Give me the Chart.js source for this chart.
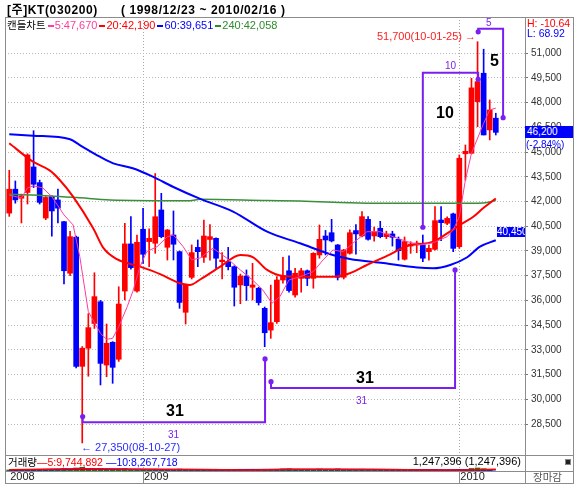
<!DOCTYPE html>
<html>
<head>
<meta charset="utf-8">
<script src="https://cdn.jsdelivr.net/npm/chart.js@4.4.1/dist/chart.umd.min.js"></script>
<style>
body{margin:0;background:#fff;}
#wrap{position:relative;width:580px;height:495px;overflow:hidden;font-family:"Liberation Sans","Noto Sans CJK KR",sans-serif;}
canvas{position:absolute;left:0;top:0;}
.t{position:absolute;white-space:nowrap;line-height:14px;font-size:11px;}
.ln{position:absolute;background:#8c8c8c;}
.dash{display:inline-block;width:6px;height:2px;vertical-align:middle;margin:0 1px 0 2px;}
.ko{font-family:"Noto Sans CJK KR",sans-serif;font-size:10.5px;}
</style>
</head>
<body>
<div id="wrap">
  <canvas id="pc" width="580" height="495"></canvas>
  <canvas id="vc" width="580" height="495"></canvas>

  <!-- frame -->
  <div class="ln" style="left:5px;top:17px;width:569px;height:1px"></div>
  <div class="ln" style="left:5px;top:483px;width:569px;height:1px"></div>
  <div class="ln" style="left:5px;top:17px;width:1px;height:467px"></div>
  <div class="ln" style="left:573px;top:17px;width:1px;height:467px"></div>
  <div class="ln" style="left:525px;top:17px;width:1px;height:467px"></div>
  <div class="ln" style="left:5px;top:455px;width:569px;height:1px"></div>
  <div class="ln" style="left:5px;top:471px;width:569px;height:1px"></div>

  <!-- title / legend -->
  <div class="t" style="left:7px;top:3px;font-size:12px;font-weight:bold;letter-spacing:0.6px">[주]KT(030200)</div>
  <div class="t" style="left:121px;top:3px;font-size:12px;font-weight:bold;letter-spacing:0.6px">( 1998/12/23 ~ 2010/02/16 )</div>
  <div class="t" style="left:7px;top:18px;font-size:11px"><span class="ko">캔들차트</span><span class="dash" style="background:#ff3c9b"></span><span style="color:#ff3c9b">5:47,670</span><span class="dash" style="background:#ff0000"></span><span style="color:#ff0000">20:42,190</span><span class="dash" style="background:#0000ff"></span><span style="color:#0000ff">60:39,651</span><span class="dash" style="background:#2e8b2e"></span><span style="color:#2e8b2e">240:42,058</span></div>
  <div class="t" style="left:527px;top:16px;font-size:10.5px;color:#ff0000">H: -10.64</div>
  <div class="t" style="left:527px;top:26px;font-size:10.5px;color:#0000ff">L: 68.92</div>

  <!-- price flags -->
  <div class="t" style="left:525px;top:126px;width:48px;height:12px;line-height:12px;background:#0000ff;color:#fff;font-size:10px;padding-left:2px;box-sizing:border-box">46,200</div>
  <div class="t" style="left:526px;top:138px;font-size:10px;color:#0000ff">(-2.84%)</div>
  <div class="t" style="left:497px;top:227px;width:28px;height:10px;line-height:10px;background:#0000ff;color:#fff;font-size:10px;overflow:hidden">40,450</div>

  <!-- annotations -->
  <div class="t" style="right:104px;top:29px;font-size:11px;color:#ff2020">51,700(10-01-25) →</div>
  <div class="t" style="left:81px;top:440px;font-size:11px;color:#2d2dff">← 27,350(08-10-27)</div>
  <div class="t" style="left:166px;top:402px;font-size:16px;font-weight:bold;line-height:18px">31</div>
  <div class="t" style="left:168px;top:428px;font-size:10px;color:#7b1ff0">31</div>
  <div class="t" style="left:356px;top:369px;font-size:16px;font-weight:bold;line-height:18px">31</div>
  <div class="t" style="left:356px;top:394px;font-size:10px;color:#7b1ff0">31</div>
  <div class="t" style="left:436px;top:104px;font-size:16px;font-weight:bold;line-height:18px">10</div>
  <div class="t" style="left:445px;top:59px;font-size:10px;color:#7b1ff0">10</div>
  <div class="t" style="left:490px;top:52px;font-size:16px;font-weight:bold;line-height:18px">5</div>
  <div class="t" style="left:486px;top:16px;font-size:10px;color:#7b1ff0">5</div>

  <!-- volume panel text -->
  <div class="t" style="left:8px;top:455px;font-size:10.5px"><span class="ko">거래량</span><span style="color:#ff0000">—5:9,744,892</span> <span style="color:#0000ff">—10:8,267,718</span></div>
  <div class="t" style="right:59px;top:454px;font-size:11px">1,247,396 (1,247,396)</div>
  <div style="position:absolute;left:565px;top:459px;width:6px;height:6px;background:#222;border:1px solid #888;box-sizing:border-box"></div>
  <div class="t ko" style="left:533px;top:470px;color:#555">장마감</div>
</div>

<script>
// weekly candles, 2008-08-04 .. 2010-02-15
const opens = [41300,42750,42200,42550,44100,43150,41000,42300,42100,40780,
37650,39850,32000,33100,34600,35920,32080,33460,32430,36570,
39430,36570,40320,39570,39470,41490,39225,39970,38960,35280,
37400,39220,38620,39700,39770,38350,38350,38050,36940,37480,
36800,36740,35520,34200,34710,37240,37800,36330,37340,37800,
37340,38760,39910,40110,39365,37405,38860,40240,39910,40920,
39912,40380,39870,40035,39710,38500,39300,39365,39365,38960,
39100,40880,40680,41250,39260,44900,44930,48064,49787,46346,
47060];
const highs = [43900,43250,42450,44900,46300,43300,42300,42350,42750,40800,
40200,39900,33200,35200,37680,36000,34570,33500,36830,40680,
41085,39970,41590,40340,43700,42500,40300,41430,39000,37000,
39370,39670,40880,40600,39800,38900,39220,38100,37600,37850,
38250,36800,35600,36930,37440,38620,38700,37950,37950,37850,
38900,40580,40250,40920,39400,39100,40280,40600,41390,41085,
40450,40800,40200,40200,39850,39850,39560,39600,39970,39360,
41690,41690,41080,41300,44830,45435,49480,51700,51244,48167,
47360];
const lows = [41100,41900,40700,41850,42850,41850,40900,39900,40700,37000,
37500,31900,27350,31400,34300,30870,31370,30970,32300,36030,
37900,36500,38250,38050,38860,39800,38450,38455,35520,34570,
37300,38050,38300,38450,37950,37300,37850,35660,35800,36000,
36030,35720,33190,33700,34600,37040,36500,36200,36500,36900,
36740,38560,38760,39550,37240,37300,38800,38800,39850,39650,
39590,39800,39750,39300,38450,38450,38860,38900,38350,38450,
39050,39630,40600,38960,39160,43300,44900,46546,46042,45738,
46042];
const closes = [42750,42100,42350,44830,43050,41950,42250,41430,41600,37800,
39870,32000,33100,34350,36230,32180,33400,31940,35780,39430,
37990,39530,38800,39770,41080,39870,40276,39410,35880,36940,
38900,38960,39910,39870,38560,38450,38050,36800,37480,36900,
36940,35870,34040,34650,37240,37480,36600,37650,37800,37340,
38860,39710,39670,39610,37405,39060,40110,40035,41085,39710,
40170,39870,40035,39830,39020,39570,39420,39480,38560,39160,
40840,40720,40980,39160,44630,45050,48900,49278,46042,47560,
46200];

// moving averages: [week index, value]
const ma5 = [[0,42390],[2,42220],[3,42830],[4,42950],[5.5,42830],[7,42300],[9,41190],[10.5,40580],[11.6,38650],[13,35320],
[15,34000],[16,33640],[17,33700],[18,34400],[19.4,35620],[20.3,36530],[21.5,38050],[22.6,38960],[24.3,39260],[26,39870],
[27,39970],[28.6,39260],[30,38460],[31.4,38580],[33.5,39170],[35.8,38560],[38,37850],[40,37240],[41.7,36630],[43.2,35830],
[44.5,36230],[46,37240],[47.8,37440],[50,37750],[51.6,38460],[53.2,39060],[54.9,38960],[56.5,39470],[58.8,40170],[61,40170],
[63.1,39870],[65.4,39570],[67.6,39370],[69.7,39500],[72,39870],[73,40280],[74,41080],[75,43310],[76,44930],[78,46750],
[79,47560],[80,47670]];
const ma20 = [[0,45540],[3.9,44420],[6.7,43880],[8.3,43310],[10.5,42300],[13.8,40380],[15.5,39170],[17.7,38500],[21.5,38050],[24.8,37600],
[28.1,37040],[29.7,36940],[31.4,37270],[34.7,38050],[38,38760],[40.1,38620],[42.4,37850],[45,37480],[47.8,37440],[53.2,37440],
[56,37650],[58.8,38150],[62.1,38700],[65.4,39300],[69.7,39570],[72,40070],[74.1,40580],[76.3,41080],[77.9,41590],[80,42190]];
const ma60 = [[0,46080],[3.9,46000],[10,45780],[11.6,45430],[14.9,44720],[17.1,44320],[20.3,44020],[23.6,43510],[26.9,42900],[31.4,42160],
[36.8,41390],[42.4,40170],[47.8,39470],[53.2,38760],[56,38520],[61.5,38270],[67.1,38000],[69.7,37950],[72.5,38150],[75.3,38620],
[77.4,39260],[80,39651]];
const ma240 = [[0,42440],[6.7,42340],[11.1,42240],[16.6,42100],[29.7,42050],[31.4,42140],[42.4,42060],[47.8,42030],[58.8,41900],[73,41900],
[78,41920],[80,42058]];

const volumes = [7.2,6.8,6.5,8.1,9.4,7.0,6.2,7.5,6.9,11.8,
10.5,14.2,16.8,12.1,10.3,11.6,9.2,8.8,10.1,11.4,
8.3,7.9,8.6,7.4,9.8,8.1,7.3,7.0,10.2,9.1,
8.4,7.2,8.0,7.6,7.1,6.8,6.5,8.7,7.4,6.9,
7.1,7.8,9.6,8.9,9.3,10.8,11.5,9.7,8.2,7.7,
9.1,10.4,8.8,9.5,10.9,9.2,8.5,7.9,9.8,8.6,
7.4,7.2,6.6,6.9,7.8,7.5,6.4,6.8,7.1,6.7,
8.9,5.8,5.5,6.4,9.0,7.25,12.5,14.2,11.8,8.97,
1.25];
const volMa5 = [[0,7.6],[12,11.5],[20,9.4],[30,8.6],[40,7.4],[46,9.4],[52,9.6],[60,8.7],[70,7.1],[75,7.0],[80,9.74]];
const volMa10 = [[0,7.4],[14,10.8],[24,8.9],[36,7.6],[48,8.6],[60,8.9],[72,7.4],[80,8.27]];

const priceTicks = [28500,30000,31500,33000,34500,36000,37500,39000,40500,42000,43500,45000,46500,48000,49500,51000];
const yearLabels = ['2008','2009','2010'];
const yearStarts = [0,22,74];

// cycle brackets: [start week, start price, end week, end price, bracket line price]
const cycles = [
  [12.07,28950,42.06,32450,28600],
  [43.04,31070,73.3,37850,30680],
  [68.0,40440,77.1,49420,49820],
  [77.1,52300,81.2,47090,52480]
];

const UP = '#ff0000', DOWN = '#0000ff', PURPLE = '#7b1ff0';
const idx = closes.map((c, i) => i);
const candleColor = idx.map(i => closes[i] >= opens[i] ? UP : DOWN);
const pts = a => a.map(p => ({x: p[0], y: p[1]}));
const XMIN = -0.7, XMAX = 84.8;

const cyclePlugin = {
  id: 'cycles',
  afterDatasetsDraw(chart) {
    const {ctx, scales: {x, y}} = chart;
    ctx.save();
    ctx.strokeStyle = PURPLE;
    ctx.fillStyle = PURPLE;
    ctx.lineWidth = 2;
    cycles.forEach(c => {
      const x0 = x.getPixelForValue(c[0]), y0 = y.getPixelForValue(c[1]);
      const x1 = x.getPixelForValue(c[2]), y1 = y.getPixelForValue(c[3]);
      const yl = y.getPixelForValue(c[4]);
      ctx.beginPath();
      ctx.moveTo(x0, y0); ctx.lineTo(x0, yl); ctx.lineTo(x1, yl); ctx.lineTo(x1, y1);
      ctx.stroke();
      [[x0, y0], [x1, y1]].forEach(p => {
        ctx.beginPath(); ctx.arc(p[0], p[1], 2.6, 0, Math.PI * 2); ctx.fill();
      });
    });
    ctx.restore();
  }
};

const yearGrid = c => (c.index === 0 ? 'rgba(0,0,0,0)' : '#a8a8a8');
const yearTick = c => (c.index === 0 ? 'rgba(0,0,0,0)' : '#8c8c8c');

new Chart(document.getElementById('pc'), {
  type: 'bar',
  data: {
    datasets: [
      {type: 'line', data: pts(ma5), borderColor: '#ff3c9b', borderWidth: 1, pointRadius: 0, order: 0},
      {type: 'line', data: pts(ma20), borderColor: '#ff0000', borderWidth: 2, pointRadius: 0, cubicInterpolationMode: 'monotone', order: 0},
      {type: 'line', data: pts(ma60), borderColor: '#0000ff', borderWidth: 2, pointRadius: 0, cubicInterpolationMode: 'monotone', order: 0},
      {type: 'line', data: pts(ma240), borderColor: '#3a8f3a', borderWidth: 1.5, pointRadius: 0, cubicInterpolationMode: 'monotone', order: 0},
      {type: 'bar', data: idx.map(i => ({x: i, y: [Math.min(opens[i], closes[i]), Math.max(opens[i], closes[i])]})),
        backgroundColor: candleColor, barThickness: 5, grouped: false, order: 1},
      {type: 'bar', data: idx.map(i => ({x: i, y: [lows[i], highs[i]]})),
        backgroundColor: candleColor, barThickness: 1, grouped: false, order: 2}
    ]
  },
  options: {
    responsive: false,
    animation: false,
    events: [],
    layout: {padding: {left: 5, right: 7, top: 17, bottom: 40}},
    plugins: {legend: {display: false}, tooltip: {enabled: false}},
    scales: {
      x: {
        type: 'linear', min: XMIN, max: XMAX, offset: false,
        afterBuildTicks: ax => { ax.ticks = yearStarts.map(v => ({value: v})); },
        afterFit: ax => { ax.height = 0; },
        ticks: {display: false},
        grid: {color: yearGrid, drawTicks: false, offset: false},
        border: {display: false, dash: [1, 2]}
      },
      y: {
        position: 'right', min: 26620, max: 53200,
        afterBuildTicks: ax => { ax.ticks = priceTicks.map(v => ({value: v})); },
        afterFit: ax => { ax.width = 48; },
        ticks: {color: '#333', font: {family: 'Liberation Sans', size: 10}, padding: 3,
          callback: v => v.toLocaleString('en-US')},
        grid: {color: '#b8b8b8', tickLength: 3, tickColor: '#777'},
        border: {display: false, dash: [1, 2]}
      }
    }
  },
  plugins: [cyclePlugin]
});

new Chart(document.getElementById('vc'), {
  type: 'bar',
  data: {
    datasets: [
      {type: 'line', data: pts(volMa5), borderColor: '#ff0000', borderWidth: 1.5, pointRadius: 0, order: 0},
      {type: 'line', data: pts(volMa10), borderColor: '#0000ff', borderWidth: 1.5, pointRadius: 0, order: 0},
      {type: 'bar', data: idx.map(i => ({x: i, y: volumes[i]})), backgroundColor: '#1e6e1e', barThickness: 5, order: 1}
    ]
  },
  options: {
    responsive: false,
    animation: false,
    events: [],
    layout: {padding: {left: 5, right: 55, top: 455, bottom: 12}},
    plugins: {legend: {display: false}, tooltip: {enabled: false}},
    scales: {
      x: {
        type: 'linear', min: XMIN, max: XMAX, offset: false,
        afterBuildTicks: ax => { ax.ticks = yearStarts.map(v => ({value: v})); },
        afterFit: ax => { ax.height = 11; },
        ticks: {color: '#222', font: {family: 'Liberation Sans', size: 11}, align: 'start', labelOffset: 1, padding: -12.6,
          maxRotation: 0, autoSkip: false,
          callback: v => yearLabels[yearStarts.indexOf(v)]},
        grid: {color: yearGrid, tickLength: 11, tickColor: yearTick, offset: false},
        border: {display: false, dash: [1, 2]}
      },
      y: {display: false, min: 0, max: 60}
    }
  }
});
</script>
</body>
</html>
